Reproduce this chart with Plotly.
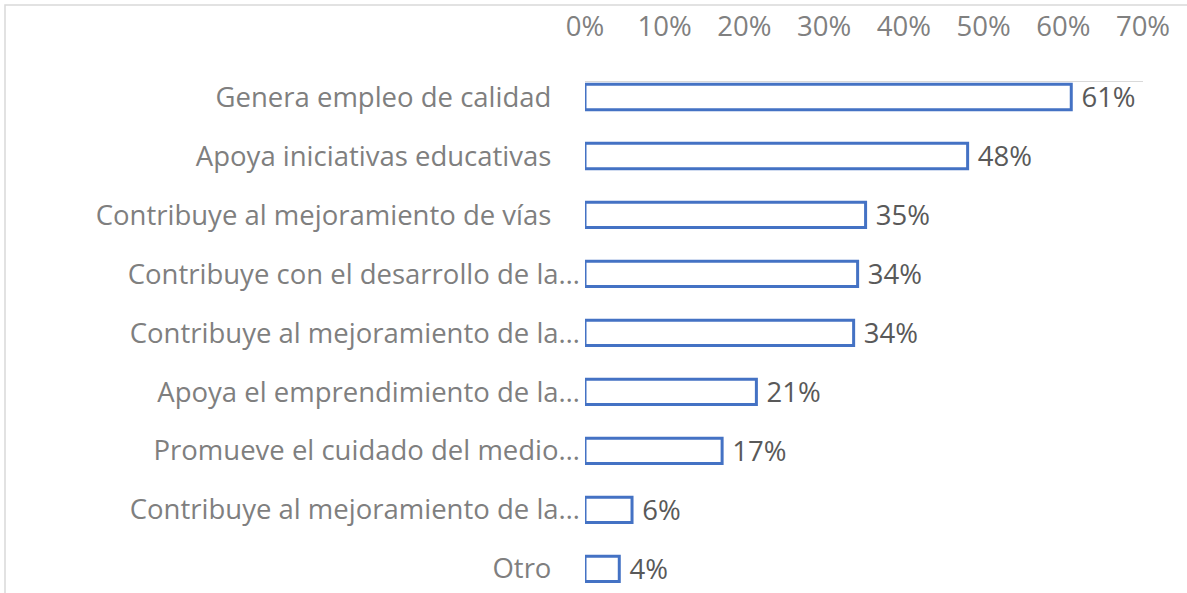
import plotly.graph_objects as go

categories = [
    "Genera empleo de calidad",
    "Apoya iniciativas educativas",
    "Contribuye al mejoramiento de vías",
    "Contribuye con el desarrollo de la…",
    "Contribuye al mejoramiento de la…",
    "Apoya el emprendimiento de la…",
    "Promueve el cuidado del medio…",
    "Contribuye al mejoramiento de la…",
    "Otro",
]
values = [61, 48, 35.2, 34.2, 33.7, 21.5, 17.2, 5.9, 4.3]
value_labels = ["61%", "48%", "35%", "34%", "34%", "21%", "17%", "6%", "4%"]
x_ticks = [0, 10, 20, 30, 40, 50, 60, 70]
x_tick_labels = ["0%", "10%", "20%", "30%", "40%", "50%", "60%", "70%"]

W, H = 1187, 593
L, R = 585, 1143
T = 82
FS = 27.5

NB = "\u00a0"
def pad(lbl):
    return lbl if lbl.endswith("…") else lbl + NB * 4

ids = list(range(len(categories)))

fig = go.Figure(go.Bar(
    y=ids,
    x=values,
    orientation="h",
    marker=dict(color="white", line=dict(color="#4472C4", width=3)),
    text=[NB + t for t in value_labels],
    textposition="outside",
    constraintext="none",
    textfont=dict(family="Open Sans", size=FS, color="#595959"),
    cliponaxis=False,
    width=0.43,
))

fig.update_layout(
    width=W, height=H,
    margin=dict(l=L, r=W - R, t=T, b=0, autoexpand=False),
    paper_bgcolor="white", plot_bgcolor="white",
    showlegend=False,
    font=dict(family="Open Sans", size=FS, color="#7f7f7f"),
    xaxis=dict(
        side="top", range=[0, 70], tickvals=x_ticks, ticktext=x_tick_labels,
        showgrid=False, zeroline=False, showline=True, linecolor="#d9d9d9", linewidth=1,
        ticks="", ticklabelstandoff=34,
        tickfont=dict(family="Open Sans", size=FS, color="#808080"),
    ),
    yaxis=dict(
        tickmode="array", tickvals=ids, ticktext=[pad(c) for c in categories],
        range=[8.41, -0.254], showgrid=False, zeroline=False, showline=False,
        ticks="", ticklabelstandoff=4,
        tickfont=dict(family="Open Sans", size=FS, color="#7f7f7f"),
    ),
)

# chart border (light gray), cropped at right/bottom
pw = R - L
ph = H - T
def px2x(px):
    return (px - L) / pw
def py2y(py):
    return (H - py) / ph
fig.add_shape(type="rect", xref="paper", yref="paper",
              x0=px2x(5), x1=px2x(W + 10), y0=py2y(H + 10), y1=py2y(5),
              line=dict(color="#d9d9d9", width=1.5), fillcolor="rgba(0,0,0,0)", layer="below")

fig.write_html("out.html", config={"displayModeBar": False},
               post_script="document.body.style.margin='0';document.body.style.overflow='hidden';")
